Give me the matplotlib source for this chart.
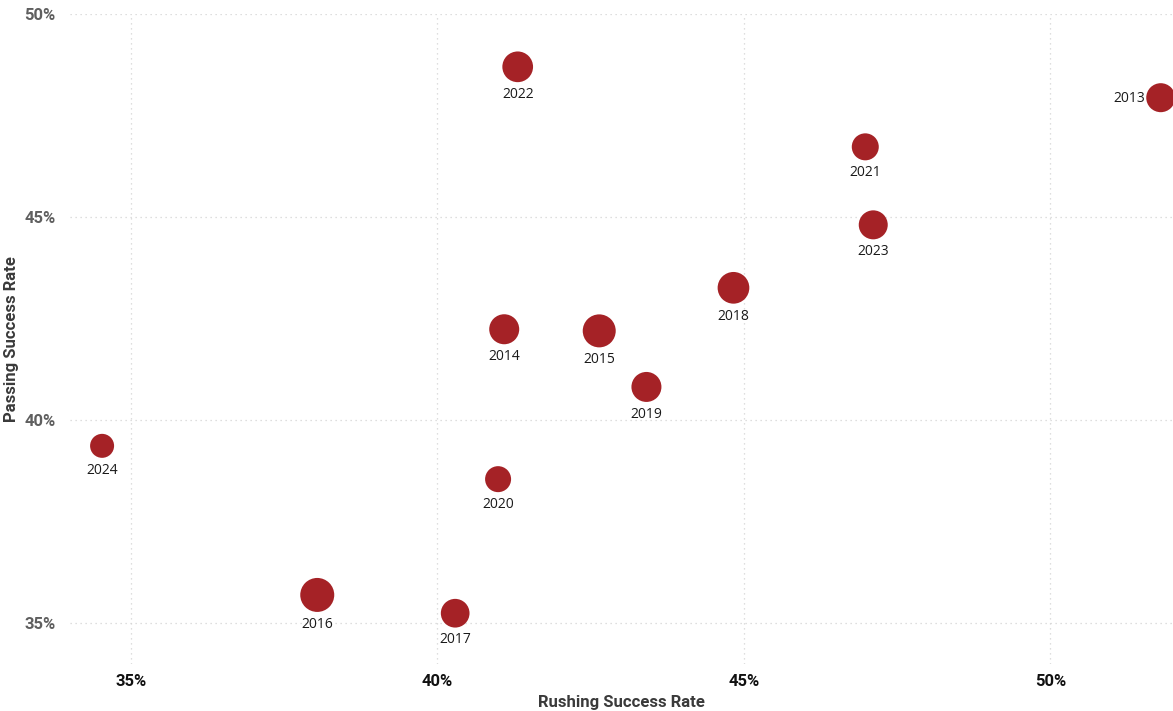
import matplotlib
matplotlib.use("Agg")
import matplotlib.pyplot as plt
from matplotlib.ticker import FuncFormatter, FixedLocator

# ---- data ----
years = ["2013", "2014", "2015", "2016", "2017", "2018", "2019", "2020",
         "2021", "2022", "2023", "2024"]
rushing_sr = [51.80, 41.09, 42.64, 38.04, 40.29, 44.83, 43.41, 40.99,
              46.98, 41.31, 47.11, 34.53]
passing_sr = [47.94, 42.24, 42.20, 35.70, 35.25, 43.26, 40.82, 38.55,
              46.73, 48.70, 44.81, 39.37]
bubble_size = [29, 30, 33, 34, 28.7, 31.7, 30, 26, 27, 30.7, 29, 24]  # bubble diameters (px)
x_ticks = [35, 40, 45, 50]
y_ticks = [35, 40, 45, 50]

W, H, DPI = 1173, 711, 100
fig = plt.figure(figsize=(W / DPI, H / DPI), dpi=DPI)
left_px, right_px, top_px, bottom_px = 69.6, 1173, 14, 664
ax = fig.add_axes([left_px / W, 1 - bottom_px / H,
                   (right_px - left_px) / W, (bottom_px - top_px) / H])

px2pt = 72 / DPI
sizes = [(d * px2pt) ** 2 for d in bubble_size]
color = "#A52226"
ax.scatter(rushing_sr, passing_sr, s=sizes, color=color, edgecolors="none",
           zorder=3)

for yr, x, y, d in zip(years, rushing_sr, passing_sr, bubble_size):
    r_pt = d / 2 * px2pt
    if yr == "2013":
        ax.annotate(yr, (x, y), xytext=(-r_pt - 0.5, -0.5),
                    textcoords="offset points", ha="right", va="center",
                    fontsize=10, family="Open Sans", color="#1a1a1a",
                    zorder=4)
    else:
        ax.annotate(yr, (x, y), xytext=(0, -r_pt - 3.5),
                    textcoords="offset points", ha="center", va="top",
                    fontsize=10, family="Open Sans", color="#1a1a1a",
                    zorder=4)

ax.set_xlim(34, 52)
ax.set_ylim(34, 50)
ax.xaxis.set_major_locator(FixedLocator(x_ticks))
ax.yaxis.set_major_locator(FixedLocator(y_ticks))
fmt = FuncFormatter(lambda v, p: f"{v:.0f}%")
ax.xaxis.set_major_formatter(fmt)
ax.yaxis.set_major_formatter(fmt)

ax.grid(True, linestyle=(0, (1, 3)), color="#d4d4d4", linewidth=0.9, zorder=0)
for s in ax.spines.values():
    s.set_visible(False)
ax.tick_params(length=0)
ax.tick_params(axis="x", pad=7, colors="#111111")
ax.tick_params(axis="y", pad=10, colors="#5f5f5f")
for lab in ax.get_xticklabels() + ax.get_yticklabels():
    lab.set_family("Roboto")
    lab.set_fontweight("bold")
    lab.set_fontsize(12)

fig.text((left_px + right_px) / 2 / W, 1 - 702.5 / H, "Rushing Success Rate",
         ha="center", va="center", fontsize=12, fontweight="bold",
         family="Roboto", color="#3a3a3a")
fig.text(12 / W, 1 - 339 / H, "Passing Success Rate", rotation=90,
         ha="center", va="center", fontsize=12, fontweight="bold",
         family="Roboto", color="#3a3a3a")

fig.savefig("out.png", dpi=DPI)
